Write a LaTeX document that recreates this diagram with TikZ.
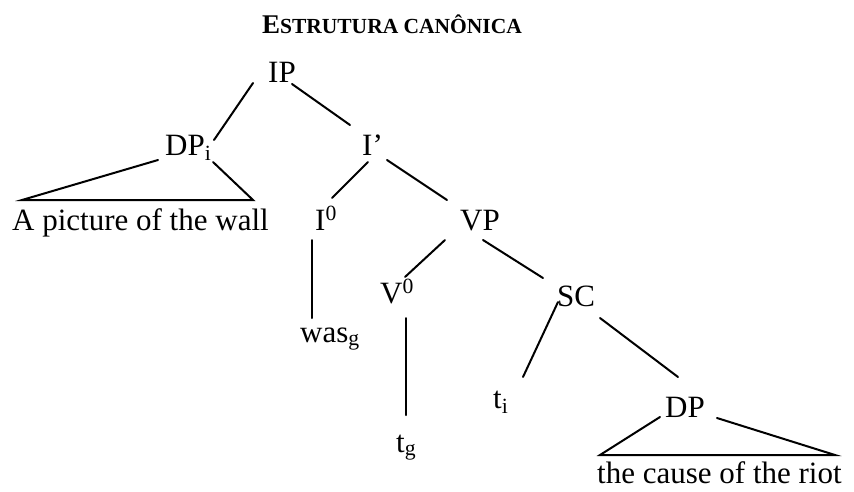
\documentclass[tikz,border=0pt]{standalone}
\usepackage{fontspec}
\setmainfont{Liberation Serif}
\begin{document}
\begin{tikzpicture}[x=1pt,y=-1pt,
  lbl/.style={inner sep=0pt,anchor=base west,font=\fontsize{31}{31}\selectfont},
  ttl/.style={inner sep=0pt,anchor=base},
  edge/.style={line width=2pt,line cap=round}]
\useasboundingbox (0,0) rectangle (854,491);

% heading in small capitals
\node[ttl] (title) at (392,33)
  {\bfseries\fontsize{27}{27}\selectfont E\fontsize{21.5}{21.5}\selectfont STRUTURA CANÔNICA};

% tree labels
\node[lbl] (IP)   at (268,82)  {IP};
\node[lbl] (DPi)  at (165,155) {DP\textsubscript{i}};
\node[lbl] (Ibar) at (362,155) {I’};
\node[lbl] (subj) at (12,230)  {A picture of the wall};
\node[lbl] (I0)   at (315,230) {I\textsuperscript{0}};
\node[lbl] (VP)   at (460,230) {VP};
\node[lbl] (was)  at (300,342) {was\textsubscript{g}};
\node[lbl] (V0)   at (380,303) {V\textsuperscript{0}};
\node[lbl] (SC)   at (557,306) {SC};
\node[lbl] (tg)   at (396,452) {t\textsubscript{g}};
\node[lbl] (ti)   at (493,408) {t\textsubscript{i}};
\node[lbl] (DP)   at (665,417) {DP};
\node[lbl] (pred) at (597,483) {the cause of the riot};

% branches
\draw[edge] ([shift={(-15,1)}]IP.base west)  -- ([shift={(49,-15)}]DPi.base west);
\draw[edge] ([shift={(24,2)}]IP.base west)   -- ([shift={(-12,-30)}]Ibar.base west);
\draw[edge] ([shift={(6,7)}]Ibar.base west)  -- ([shift={(17,-32)}]I0.base west);
\draw[edge] ([shift={(25,5)}]Ibar.base west) -- ([shift={(-13,-30)}]VP.base west);
\draw[edge] ([shift={(-3,10)}]I0.base west)  -- ([shift={(12,-24)}]was.base west);
\draw[edge] ([shift={(-15,10)}]VP.base west) -- ([shift={(25,-26)}]V0.base west);
\draw[edge] ([shift={(23,10)}]VP.base west)  -- ([shift={(-14,-28)}]SC.base west);
\draw[edge] ([shift={(26,15)}]V0.base west)  -- ([shift={(10,-37)}]tg.base west);
\draw[edge] ([shift={(1,-4)}]SC.base west)   -- ([shift={(30,-31)}]ti.base west);
\draw[edge] ([shift={(43,12)}]SC.base west)  -- ([shift={(13,-40)}]DP.base west);

% triangles over unanalysed phrases
\draw[edge] ([shift={(-7,5)}]DPi.base west) -- ([shift={(10,-30)}]subj.base west)
  -- ([shift={(241,-30)}]subj.base west) -- ([shift={(48,7)}]DPi.base west);
\draw[edge] ([shift={(-5,0)}]DP.base west) -- ([shift={(3,-28)}]pred.base west)
  -- ([shift={(238,-28)}]pred.base west) -- ([shift={(52,1)}]DP.base west);
\end{tikzpicture}
\end{document}
